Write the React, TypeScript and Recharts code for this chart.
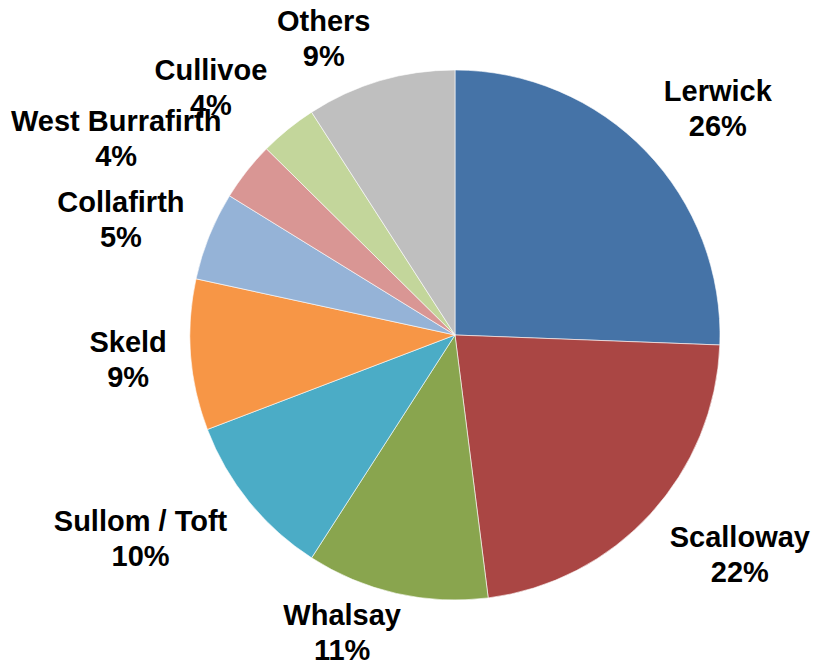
import React from 'react';
import { PieChart, Pie, Cell } from 'recharts';

const ports = ['Lerwick', 'Scalloway', 'Whalsay', 'Sullom / Toft', 'Skeld', 'Collafirth', 'West Burrafirth', 'Cullivoe', 'Others'];
const shares = [25.6, 22.4, 11.1, 10.1, 9.2, 5.4, 3.6, 3.5, 9.1];
const colors = ['#4573A7', '#AA4644', '#89A54E', '#4BACC6', '#F79646', '#95B3D7', '#D99694', '#C3D69B', '#BFBFBF'];

// small hand tweaks so the labels sit where Excel's "best fit" put them
const labelNudge: [number, number][] = [
  [5, -3], [6, 2], [-32, -6], [-8, 0], [-6, 0], [-8, 5], [-11, 3], [-16, 0], [-33, 3],
];

const data = ports.map((name, i) => ({ name, value: shares[i] }));

const FONT = 'bold 29px "Liberation Sans", Arial, sans-serif';
const LINE = 35;
const RAD = Math.PI / 180;

let ctx: CanvasRenderingContext2D | null = null;
const textWidth = (s: string) => {
  if (!ctx) ctx = document.createElement('canvas').getContext('2d');
  if (!ctx) return s.length * 15;
  ctx.font = FONT;
  return ctx.measureText(s).width;
};

const clamp = (v: number) => Math.max(-1, Math.min(1, v));

const renderLabel = (props: any) => {
  const { cx, cy, midAngle, outerRadius, percent, name, index } = props;
  const pct = `${Math.round(percent * 100)}%`;
  const w = Math.max(textWidth(name), textWidth(pct));
  const h = 56; // visible height: cap top of line 1 to baseline of line 2
  const r = outerRadius + 18;
  const cos = Math.cos(-midAngle * RAD);
  const sin = Math.sin(-midAngle * RAD);
  const [dx, dy] = labelNudge[index] || [0, 0];
  // nearest corner of the text box sits just outside the rim
  const x = cx + r * cos + clamp(cos * 1.4) * w / 2 + dx;
  const y = cy + r * sin + clamp(sin * 1.4) * h / 2 + dy;
  return (
    <g>
      <text x={x} y={y - LINE / 2} textAnchor="middle" dominantBaseline="central"
        style={{ font: FONT }} fill="#000">{name}</text>
      <text x={x} y={y + LINE / 2} textAnchor="middle" dominantBaseline="central"
        style={{ font: FONT }} fill="#000">{pct}</text>
    </g>
  );
};

export default function App() {
  return (
    <div style={{ position: 'absolute', left: 0, top: 0, width: 814, height: 666, background: '#fff' }}>
      <PieChart width={814} height={666} margin={{ top: 0, right: 0, bottom: 0, left: 0 }}>
        <Pie
          data={data}
          dataKey="value"
          nameKey="name"
          cx={455}
          cy={335}
          outerRadius={265}
          startAngle={90}
          endAngle={-270}
          stroke="#fff"
          strokeWidth={0.6}
          label={renderLabel}
          labelLine={false}
          isAnimationActive={false}
        >
          {data.map((d, i) => (
            <Cell key={d.name} fill={colors[i]} />
          ))}
        </Pie>
      </PieChart>
    </div>
  );
}
